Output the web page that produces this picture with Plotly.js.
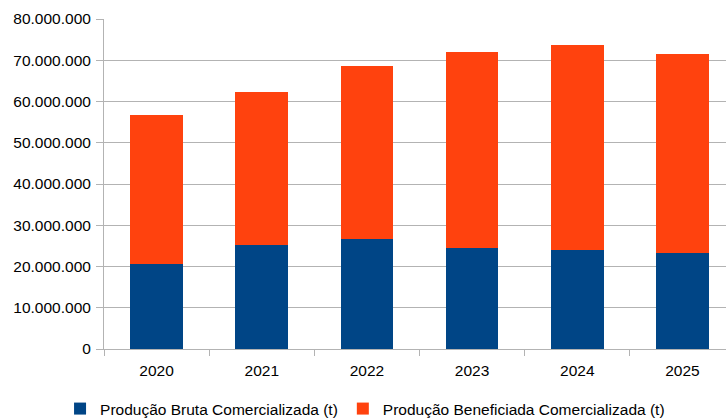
<!DOCTYPE html>
<html>
<head>
<meta charset="utf-8">
<script src="https://cdn.plot.ly/plotly-3.0.1.min.js"></script>
<style>
  html, body { margin: 0; padding: 0; overflow: hidden; background: #fff; }
  #chart { width: 745px; height: 426px; }
</style>
</head>
<body>
<div id="chart"></div>
<script>
// anos e valores (t)
const anos = ['2020', '2021', '2022', '2023', '2024', '2025'];
const producaoBruta = [20700000, 25100000, 26700000, 24500000, 23900000, 23300000];
const producaoBeneficiada = [36000000, 37200000, 41900000, 47600000, 49700000, 48100000];
const yTicks = [0, 10000000, 20000000, 30000000, 40000000, 50000000, 60000000, 70000000, 80000000];

const trace1 = {
  x: anos,
  y: producaoBruta,
  type: 'bar',
  name: 'Produção Bruta Comercializada (t)',
  marker: { color: '#004586' },
  hoverinfo: 'y'
};

const trace2 = {
  x: anos,
  y: producaoBeneficiada,
  type: 'bar',
  name: 'Produção Beneficiada Comercializada (t)',
  marker: { color: '#ff420e' },
  hoverinfo: 'y'
};

const layout = {
  width: 745,
  height: 426,
  barmode: 'stack',
  bargap: 0.5,
  separators: ',.',
  paper_bgcolor: '#fff',
  plot_bgcolor: '#fff',
  margin: { l: 104, r: 10, t: 19, b: 77 },
  font: { family: 'Liberation Sans, Arial, sans-serif', size: 15.5, color: '#000' },
  xaxis: {
    type: 'category',
    showline: true,
    linecolor: '#b3b3b3',
    linewidth: 1,
    ticks: 'outside',
    tickson: 'boundaries',
    ticklen: 6,
    tickcolor: '#b3b3b3',
    ticklabelstandoff: 7,
    showgrid: false,
    fixedrange: true
  },
  yaxis: {
    range: [0, 80000000],
    tickvals: yTicks,
    tickformat: ',d',
    showline: true,
    linecolor: '#b3b3b3',
    linewidth: 1,
    ticks: 'outside',
    ticklen: 7,
    tickcolor: '#b3b3b3',
    ticklabelstandoff: 2,
    gridcolor: '#b3b3b3',
    gridwidth: 1,
    zeroline: false,
    fixedrange: true
  },
  showlegend: true,
  legend: {
    orientation: 'h',
    xref: 'container',
    yref: 'container',
    x: 0.49,
    xanchor: 'center',
    y: 0,
    yanchor: 'bottom',
    traceorder: 'normal',
    font: { size: 15.5 },
    itemwidth: 30
  }
};

Plotly.newPlot('chart', [trace1, trace2], layout, { displayModeBar: false, staticPlot: true });
</script>
</body>
</html>
